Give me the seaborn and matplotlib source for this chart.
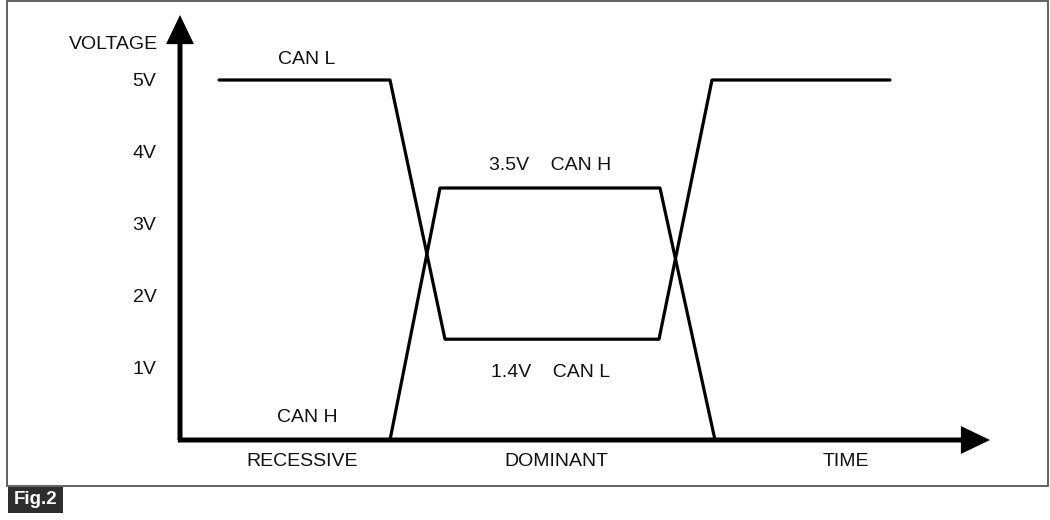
import pandas as pd
import seaborn as sns
import matplotlib.pyplot as plt
from matplotlib.patches import Rectangle

# signal data (time in arbitrary units, voltage in V)
can_l_time = [3.9, 21.0, 26.5, 47.9, 53.2, 71.0]
can_l_volt = [5.0, 5.0, 1.4, 1.4, 5.0, 5.0]
can_h_time = [5.0, 21.0, 26.0, 48.0, 53.5]
can_h_volt = [0.0, 0.0, 3.5, 3.5, 0.0]

ytick_vals = [1, 2, 3, 4, 5]
ytick_labels = ["1V", "2V", "3V", "4V", "5V"]
xtick_vals = [12.2, 37.6, 66.6]
xtick_labels = ["RECESSIVE", "DOMINANT", "TIME"]

df_l = pd.DataFrame({'time': can_l_time, 'volt': can_l_volt})
df_h = pd.DataFrame({'time': can_h_time, 'volt': can_h_volt})

sns.set_style('white')
plt.rcParams['font.family'] = ['Liberation Sans', 'DejaVu Sans']

W, H = 1050, 520
fs = 14
fig = plt.figure(figsize=(10.5, 5.2), dpi=100)
ax = fig.add_axes([180 / W, 1 - 440 / H, (990 - 180) / W, (440 - 15) / H])

sns.lineplot(data=df_l, x='time', y='volt', sort=False, estimator=None,
             color='black', linewidth=2.3, ax=ax)
sns.lineplot(data=df_h, x='time', y='volt', sort=False, estimator=None,
             color='black', linewidth=2.3, ax=ax)

ax.set_xlim(0, 81)
ax.set_ylim(0, (440 - 15) / 72)
for s in ax.spines.values():
    s.set_visible(False)

# axes with arrow heads
arr = dict(arrowstyle='-|>,head_length=0.75,head_width=0.36', mutation_scale=20,
           lw=3.6, color='black', shrinkA=0, shrinkB=0,
           joinstyle='miter', capstyle='butt')
ax.annotate('', xy=(81, 0), xytext=(-0.22, 0), arrowprops=arr, annotation_clip=False)
ax.annotate('', xy=(0, (440 - 15) / 72), xytext=(0, 0), arrowprops=arr,
            annotation_clip=False)

ax.set_yticks(ytick_vals, ytick_labels)
ax.set_xticks(xtick_vals, xtick_labels)
ax.tick_params(axis='y', length=0, pad=17, labelsize=fs, labelcolor='#111111')
ax.tick_params(axis='x', length=0, pad=9, labelsize=fs, labelcolor='#111111')
ax.set_xlabel('')
ax.set_ylabel('')

txt = dict(fontsize=fs, color='#111111', ha='center', va='center')
ax.text(-2.2, 5.49, "VOLTAGE", **dict(txt, ha='right'))
ax.text(12.7, 5.28, "CAN L", **txt)
ax.text(12.7, 0.31, "CAN H", **txt)
ax.text(37.0, 3.81, "3.5V    CAN H", **txt)
ax.text(37.1, 0.94, "1.4V    CAN L", **txt)

# outer frame and figure tag
fig.patches.append(Rectangle((7 / W, 1 - 486 / H), (1048 - 7) / W, (486 - 1) / H,
                             transform=fig.transFigure, fill=False,
                             edgecolor='#555555', lw=1.3))
fig.patches.append(Rectangle((8 / W, 1 - 513 / H), 55 / W, 26 / H,
                             transform=fig.transFigure, facecolor='#2e2e2e',
                             edgecolor='none'))
fig.text(35.5 / W, 1 - 500 / H, "Fig.2", color='white', fontsize=13.5,
         fontweight='bold', ha='center', va='center')

plt.savefig('out.png', dpi=100)
